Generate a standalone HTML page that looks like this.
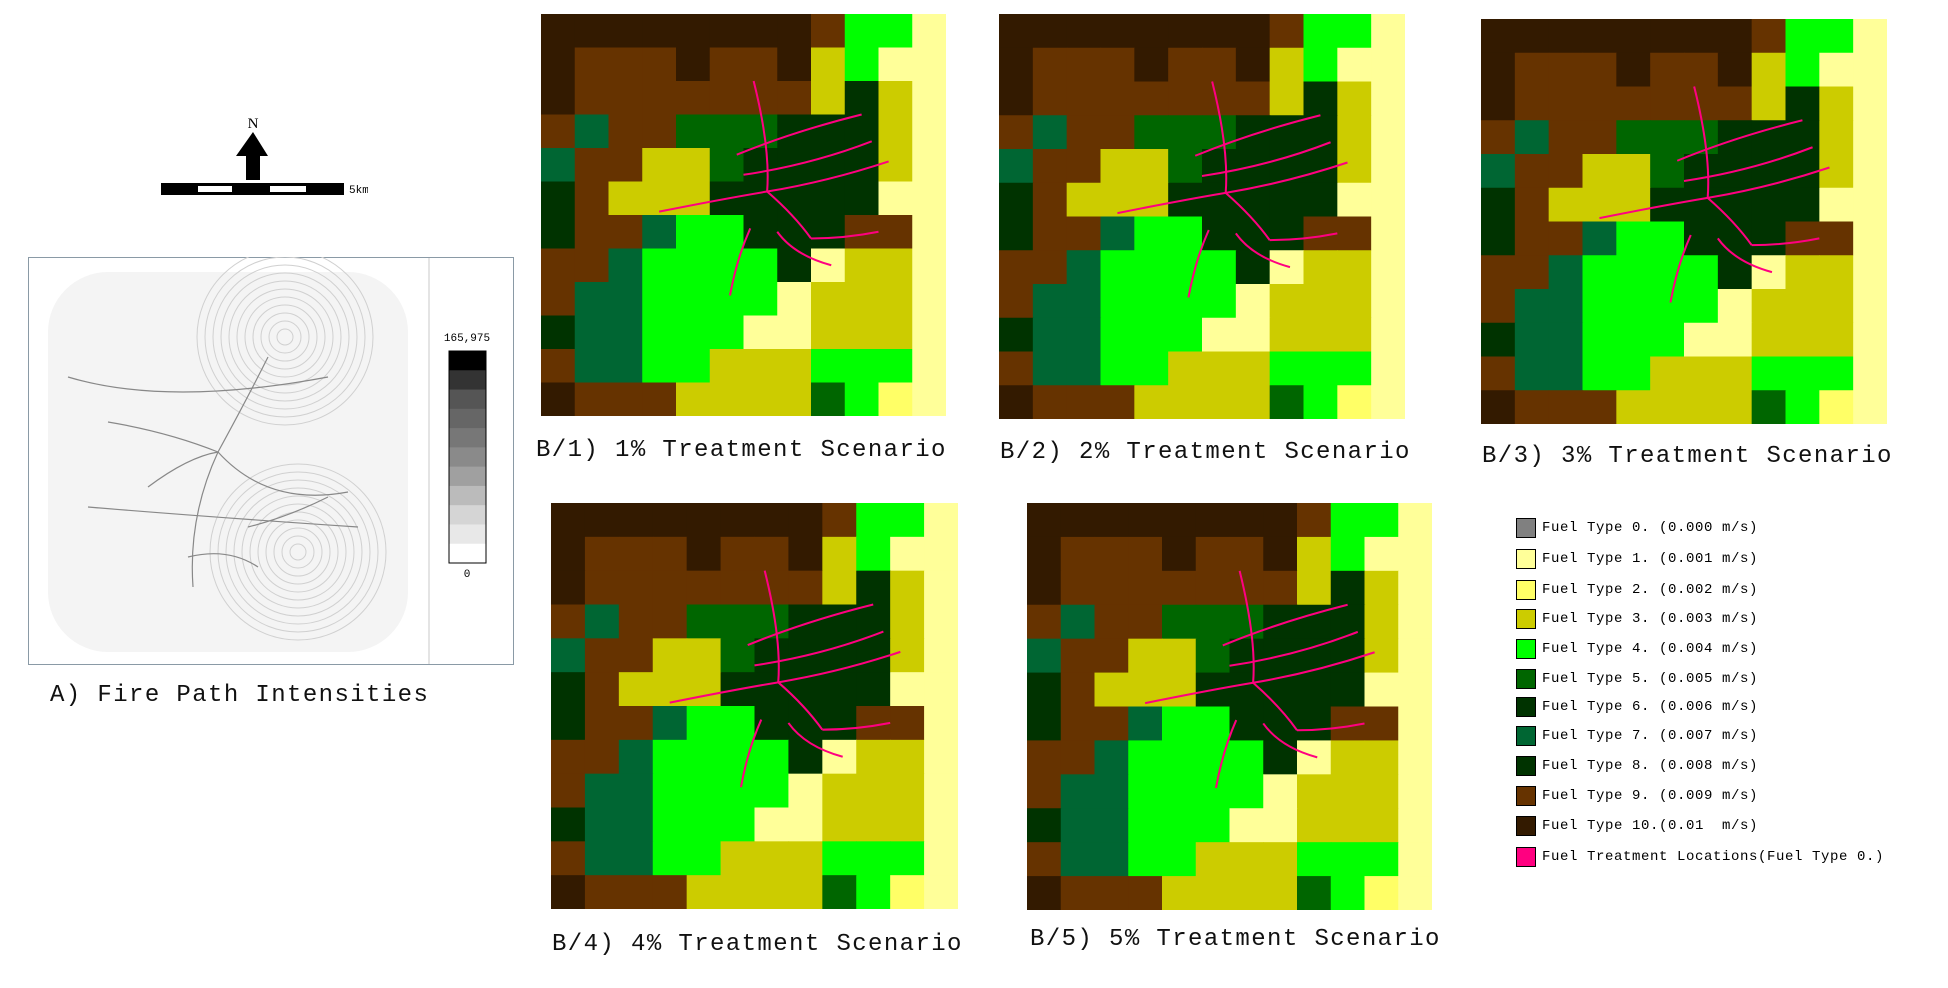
<!DOCTYPE html>
<html><head><meta charset="utf-8">
<style>
body{margin:0;width:1948px;height:988px;background:#fff;position:relative;overflow:hidden;font-family:"Liberation Mono",monospace;}
.abs{position:absolute;}
.lbl{position:absolute;font-size:24px;letter-spacing:1.4px;color:#111;white-space:pre;line-height:24px;}
.map{position:absolute;}
.leg{position:absolute;left:1516px;height:20px;}
.sw{position:absolute;left:0;top:0;width:18px;height:18px;border:1px solid #000;}
.lt{position:absolute;left:26px;top:1px;font-size:14px;letter-spacing:0.6px;white-space:pre;line-height:18px;color:#000;}
</style></head><body>

<svg class="abs" style="left:148px;top:105px" width="220" height="100">
<text x="105" y="23" font-family="Liberation Serif, serif" font-size="15" text-anchor="middle">N</text>
<polygon points="105,27 120,51 112,51 112,75 98,75 98,51 88,51" fill="#000"/>
<rect x="13" y="78" width="183" height="12" fill="#000"/>
<rect x="50" y="81" width="34" height="6" fill="#fff"/>
<rect x="122" y="81" width="36" height="6" fill="#fff"/>
<text x="201" y="88" font-family="Liberation Mono, monospace" font-size="11">5km</text>
</svg>

<svg class="abs" style="left:28px;top:257px" width="486" height="409">
<rect x="0.5" y="0.5" width="485" height="407" fill="#fff" stroke="#8a9aa6"/>
<line x1="401" y1="1" x2="401" y2="407" stroke="#e4e4e4" stroke-width="2"/>
<g id="intens" fill="none">
<rect x="20" y="15" width="360" height="380" fill="#f4f4f4" rx="60"/>
</g>
<g id="cbar"></g>
<text x="439" y="84" font-size="11" text-anchor="middle" font-family="Liberation Mono, monospace">165,975</text>
<text x="439" y="320" font-size="11" text-anchor="middle" font-family="Liberation Mono, monospace">0</text>
</svg>
<div class="lbl" style="left:50px;top:684px">A) Fire Path Intensities</div>

<svg class="map" id="m1" style="left:541px;top:14px" width="405" height="402"></svg>
<svg class="map" id="m2" style="left:999px;top:14px" width="406" height="405"></svg>
<svg class="map" id="m3" style="left:1481px;top:19px" width="406" height="405"></svg>
<svg class="map" id="m4" style="left:551px;top:503px" width="407" height="406"></svg>
<svg class="map" id="m5" style="left:1027px;top:503px" width="405" height="407"></svg>

<div class="lbl" style="left:536px;top:439px">B/1) 1% Treatment Scenario</div>
<div class="lbl" style="left:1000px;top:441px">B/2) 2% Treatment Scenario</div>
<div class="lbl" style="left:1482px;top:445px">B/3) 3% Treatment Scenario</div>
<div class="lbl" style="left:552px;top:933px">B/4) 4% Treatment Scenario</div>
<div class="lbl" style="left:1030px;top:928px">B/5) 5% Treatment Scenario</div>

<div id="legend"></div>

<script>
const legendLabels=["Fuel Type 0. (0.000 m/s)","Fuel Type 1. (0.001 m/s)","Fuel Type 2. (0.002 m/s)","Fuel Type 3. (0.003 m/s)","Fuel Type 4. (0.004 m/s)","Fuel Type 5. (0.005 m/s)","Fuel Type 6. (0.006 m/s)","Fuel Type 7. (0.007 m/s)","Fuel Type 8. (0.008 m/s)","Fuel Type 9. (0.009 m/s)","Fuel Type 10.(0.01  m/s)","Fuel Treatment Locations(Fuel Type 0.)"];
const legendColors=["#808080","#ffff99","#ffff66","#cccc00","#00ff00","#006600","#003300","#006633","#003300","#663300","#331a00","#ff0080"];
const legendTops=[518,549,580,609,639,669,697,726,756,786,816,847];
const colorbarGrays=["#000","#333","#555","#666","#777","#8a8a8a","#a0a0a0","#bbb","#d5d5d5","#e8e8e8","#fff"];
const fuelColor={a:"#331a00",b:"#663300",c:"#cccc00",d:"#ffff99",y:"#ffff66",g:"#00ff00",e:"#006600",f:"#003300",t:"#006633"};
const mapRows=[
"aaaaaaaabggd",
"abbbabbacgdd",
"abbbbbbbcfcd",
"btbbeeefffcd",
"tbbcceffffcd",
"fbcccfffffdd",
"fbbtggfffbbd",
"bbtggggfdccd",
"bttggggdcccd",
"fttgggddcccd",
"bttggcccgggd",
"abbbccccegyd"];

const leg=document.getElementById('legend');
legendLabels.forEach((t,i)=>{
 const row=document.createElement('div');row.className='leg';row.style.top=legendTops[i]+'px';
 
 
 const s=document.createElement('div');s.className='sw';s.style.background=legendColors[i];
 
 
 const l=document.createElement('div');l.className='lt';l.textContent=t;
 
 
 row.appendChild(s);row.appendChild(l);leg.appendChild(row);
});
const NS="http://www.w3.org/2000/svg";
const cb=document.getElementById('cbar');
const cbH=212/colorbarGrays.length;
colorbarGrays.forEach((g,i)=>{
 const r=document.createElementNS(NS,'rect');
 r.setAttribute('x',421);r.setAttribute('y',94+i*cbH);r.setAttribute('width',37);r.setAttribute('height',cbH+0.5);r.setAttribute('fill',g);
 
 
 cb.appendChild(r);
});
const fr=document.createElementNS(NS,'rect');
fr.setAttribute('x',421);fr.setAttribute('y',94);fr.setAttribute('width',37);fr.setAttribute('height',212);fr.setAttribute('fill','none');fr.setAttribute('stroke','#000');


cb.appendChild(fr);
const ig=document.getElementById('intens');
[[257,80],[270,295]].forEach(c=>{
 for(let r=8;r<90;r+=8){
  const ci=document.createElementNS(NS,'circle');
  ci.setAttribute('cx',c[0]);ci.setAttribute('cy',c[1]);ci.setAttribute('r',r);
  ci.setAttribute('stroke','#d0d0d0');ci.setAttribute('stroke-width','1');
  
  
  ig.appendChild(ci);
 }
});
["M190,195 Q220,140 240,100","M190,195 Q240,250 320,235","M120,230 Q160,200 190,195","M190,195 Q160,260 165,330","M80,165 Q140,175 190,195","M220,270 Q260,260 300,240","M160,300 Q200,290 230,310","M40,120 Q140,150 300,120","M60,250 Q180,260 330,270"].forEach(d=>{
 const p=document.createElementNS(NS,'path');p.setAttribute('d',d);p.setAttribute('stroke','#888');p.setAttribute('stroke-width','1.2');
 
 
 ig.appendChild(p);
});
const pinkPaths=["M6.3,2 Q6.8,4 6.7,5.3","M6.7,5.3 Q8.5,5 10.3,4.4","M6.7,5.3 Q5.5,5.5 3.5,5.9","M5.8,4.2 Q7.5,3.5 9.5,3","M6,4.8 Q8,4.5 9.8,3.8","M6.7,5.3 Q7.5,6 8,6.7","M8,6.7 Q9,6.7 10,6.5","M6.2,6.4 Q5.8,7.3 5.6,8.4","M7,6.5 Q7.5,7.2 8.6,7.5"];
['m1','m2','m3','m4','m5'].forEach(id=>{
 const s=document.getElementById(id);
 s.setAttribute('viewBox','0 0 12 12');s.setAttribute('preserveAspectRatio','none');
 mapRows.forEach((row,ri)=>{
  [...row].forEach((ch,ci)=>{
   const r=document.createElementNS(NS,'rect');
   r.setAttribute('x',ci);r.setAttribute('y',ri);r.setAttribute('width',1.02);r.setAttribute('height',1.02);r.setAttribute('fill',fuelColor[ch]);
   
   
   s.appendChild(r);
  });
 });
 pinkPaths.forEach(d=>{
  const p=document.createElementNS(NS,'path');p.setAttribute('d',d);p.setAttribute('fill','none');p.setAttribute('stroke','#ff0080');p.setAttribute('stroke-width','0.06');
  
  
  s.appendChild(p);
 });
});
</script>
</body></html>
